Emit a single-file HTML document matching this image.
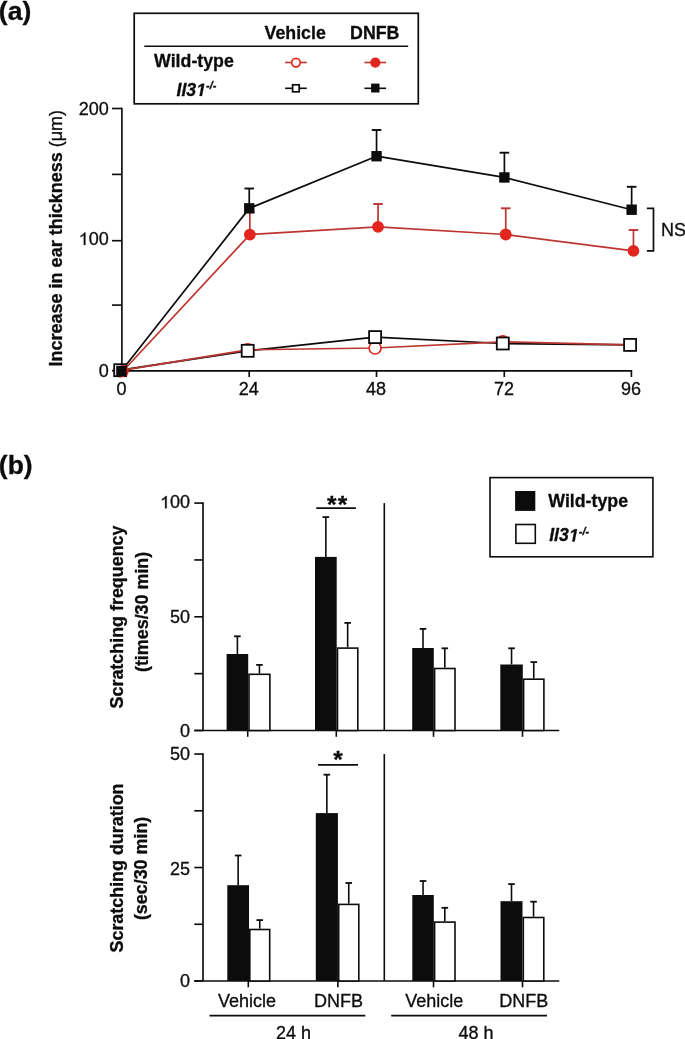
<!DOCTYPE html>
<html><head><meta charset="utf-8"><style>
html,body{margin:0;padding:0;background:#fff;}
svg{display:block;font-family:"Liberation Sans",sans-serif;filter:blur(0.4px);}
text{stroke:#0c0c0c;stroke-width:0.3px;}
</style></head><body>
<svg width="685" height="1039" viewBox="0 0 685 1039">
<rect width="685" height="1039" fill="#fff"/>
<text x="-1.2" y="19.5" text-anchor="start" font-weight="bold" font-style="normal" font-size="26.5" fill="#0c0c0c" >(a)</text>
<rect x="134.2" y="13.3" width="284.1" height="90.5" fill="none" stroke="#0c0c0c" stroke-width="1.7"/>
<line x1="144.3" y1="46.3" x2="408.2" y2="46.3" stroke="#0c0c0c" stroke-width="1.5"/>
<text x="264.6" y="38.7" text-anchor="start" font-weight="bold" font-style="normal" font-size="17.75" fill="#0c0c0c" >Vehicle</text>
<text x="350.1" y="38.7" text-anchor="start" font-weight="bold" font-style="normal" font-size="17.75" fill="#0c0c0c" >DNFB</text>
<text x="154.1" y="67" text-anchor="start" font-weight="bold" font-style="normal" font-size="17.75" fill="#0c0c0c" >Wild-type</text>
<text x="176.5" y="95.9" font-weight="bold" font-style="italic" font-size="17.75" fill="#0c0c0c">Il3</text>
<path transform="translate(196.23,95.9) scale(0.008667,-0.008667)" d="M380 0L604 1152L223 938L270 1180L666 1409H936L661 0Z" fill="#0c0c0c" stroke="#0c0c0c" stroke-width="34.6"/>
<text x="206.11" y="89.4" font-weight="bold" font-style="italic" font-size="11" fill="#0c0c0c">-/-</text>
<line x1="285.1" y1="62.5" x2="306.8" y2="62.5" stroke="#bc3530" stroke-width="1.6"/>
<circle cx="295.95" cy="62.6" r="4.3" fill="#fff" stroke="#e2251d" stroke-width="1.7"/>
<line x1="364.4" y1="62.5" x2="386.1" y2="62.5" stroke="#bc3530" stroke-width="1.6"/>
<circle cx="375.35" cy="62.6" r="5.1" fill="#e2251d"/>
<line x1="285.1" y1="88.3" x2="306.8" y2="88.3" stroke="#0c0c0c" stroke-width="1.6"/>
<rect x="292.6" y="84.8" width="6.6" height="7.0" fill="#fff" stroke="#0c0c0c" stroke-width="1.7"/>
<line x1="364.4" y1="88.3" x2="386.1" y2="88.3" stroke="#0c0c0c" stroke-width="1.6"/>
<rect x="371.1" y="83.6" width="8.4" height="8.9" fill="#0c0c0c"/>
<line x1="121.9" y1="107.7" x2="121.9" y2="371.7" stroke="#0c0c0c" stroke-width="1.65"/>
<line x1="112.0" y1="370.7" x2="121.9" y2="370.7" stroke="#0c0c0c" stroke-width="1.65"/>
<line x1="112.0" y1="305.1" x2="121.9" y2="305.1" stroke="#0c0c0c" stroke-width="1.65"/>
<line x1="112.0" y1="240.7" x2="121.9" y2="240.7" stroke="#0c0c0c" stroke-width="1.65"/>
<line x1="112.0" y1="174.4" x2="121.9" y2="174.4" stroke="#0c0c0c" stroke-width="1.65"/>
<line x1="112.0" y1="108.5" x2="121.9" y2="108.5" stroke="#0c0c0c" stroke-width="1.65"/>
<line x1="121.10000000000001" y1="370.9" x2="632.2" y2="370.9" stroke="#0c0c0c" stroke-width="1.65"/>
<line x1="121.9" y1="370.9" x2="121.9" y2="377.0" stroke="#0c0c0c" stroke-width="1.65"/>
<line x1="249.2" y1="370.9" x2="249.2" y2="377.0" stroke="#0c0c0c" stroke-width="1.65"/>
<line x1="376.5" y1="370.9" x2="376.5" y2="377.0" stroke="#0c0c0c" stroke-width="1.65"/>
<line x1="504.3" y1="370.9" x2="504.3" y2="377.0" stroke="#0c0c0c" stroke-width="1.65"/>
<line x1="631.4" y1="370.9" x2="631.4" y2="377.0" stroke="#0c0c0c" stroke-width="1.65"/>
<text x="121.5" y="395.3" text-anchor="middle" font-weight="normal" font-style="normal" font-size="18" fill="#0c0c0c" >0</text>
<text x="248.79999999999998" y="395.3" text-anchor="middle" font-weight="normal" font-style="normal" font-size="18" fill="#0c0c0c" >24</text>
<text x="376.1" y="395.3" text-anchor="middle" font-weight="normal" font-style="normal" font-size="18" fill="#0c0c0c" >48</text>
<text x="503.90000000000003" y="395.3" text-anchor="middle" font-weight="normal" font-style="normal" font-size="18" fill="#0c0c0c" >72</text>
<text x="631.0" y="395.3" text-anchor="middle" font-weight="normal" font-style="normal" font-size="18" fill="#0c0c0c" >96</text>
<text x="98.69" y="376.60" font-size="18" fill="#0c0c0c">0</text>
<path transform="translate(78.67,244.95) scale(0.008789,-0.008789)" d="M763 0H583V1098L223 890V1057Q420 1150 530 1260Q610 1340 647 1409H763Z" fill="#0c0c0c" stroke="#0c0c0c" stroke-width="34.1"/>
<text x="88.68" y="244.95" font-size="18" fill="#0c0c0c">0</text>
<text x="98.69" y="244.95" font-size="18" fill="#0c0c0c">0</text>
<text x="78.67" y="115.25" font-size="18" fill="#0c0c0c">2</text>
<text x="88.68" y="115.25" font-size="18" fill="#0c0c0c">0</text>
<text x="98.69" y="115.25" font-size="18" fill="#0c0c0c">0</text>
<text transform="translate(62,238.2) rotate(-90)" text-anchor="middle" font-size="18" fill="#0c0c0c"><tspan font-weight="bold">Increase in ear thickness </tspan>(μm)</text>
<polyline points="120.2,370.2 247.7,350.8 375.1,337.1 502.8,343.5 630.1,344.9" fill="none" stroke="#0c0c0c" stroke-width="1.7" stroke-linejoin="round"/>
<polyline points="121.4,371.0 249.25,208.35 376.55,156.2 504.4,177.45 631.65,209.7" fill="none" stroke="#0c0c0c" stroke-width="1.7" stroke-linejoin="round"/>
<polyline points="120.2,370.6 247.7,349.8 375.1,348.0 502.8,341.8 630.1,344.9" fill="none" stroke="#bc3530" stroke-width="1.7" stroke-linejoin="round"/>
<polyline points="123.0,371.0 249.85,234.6 378.05,226.8 505.75,234.5 633.45,250.95" fill="none" stroke="#bc3530" stroke-width="1.7" stroke-linejoin="round"/>
<line x1="249.85" y1="234.6" x2="249.85" y2="212.0" stroke="#bc3530" stroke-width="1.7"/>
<line x1="245.04999999999998" y1="212.0" x2="254.65" y2="212.0" stroke="#bc3530" stroke-width="1.9"/>
<line x1="378.05" y1="226.8" x2="378.05" y2="204.0" stroke="#bc3530" stroke-width="1.7"/>
<line x1="373.25" y1="204.0" x2="382.85" y2="204.0" stroke="#bc3530" stroke-width="1.9"/>
<line x1="505.75" y1="234.5" x2="505.75" y2="208.3" stroke="#bc3530" stroke-width="1.7"/>
<line x1="500.95" y1="208.3" x2="510.55" y2="208.3" stroke="#bc3530" stroke-width="1.9"/>
<line x1="633.45" y1="250.95" x2="633.45" y2="230.0" stroke="#bc3530" stroke-width="1.7"/>
<line x1="628.6500000000001" y1="230.0" x2="638.25" y2="230.0" stroke="#bc3530" stroke-width="1.9"/>
<line x1="249.25" y1="208.35" x2="249.25" y2="188.5" stroke="#0c0c0c" stroke-width="1.7"/>
<line x1="244.45" y1="188.5" x2="254.05" y2="188.5" stroke="#0c0c0c" stroke-width="1.9"/>
<line x1="376.55" y1="156.2" x2="376.55" y2="130.0" stroke="#0c0c0c" stroke-width="1.7"/>
<line x1="371.75" y1="130.0" x2="381.35" y2="130.0" stroke="#0c0c0c" stroke-width="1.9"/>
<line x1="504.4" y1="177.45" x2="504.4" y2="152.7" stroke="#0c0c0c" stroke-width="1.7"/>
<line x1="499.59999999999997" y1="152.7" x2="509.2" y2="152.7" stroke="#0c0c0c" stroke-width="1.9"/>
<line x1="631.65" y1="209.7" x2="631.65" y2="186.8" stroke="#0c0c0c" stroke-width="1.7"/>
<line x1="626.85" y1="186.8" x2="636.4499999999999" y2="186.8" stroke="#0c0c0c" stroke-width="1.9"/>
<circle cx="120.2" cy="370.6" r="6.0" fill="#fff" stroke="#e2251d" stroke-width="1.7"/>
<circle cx="247.7" cy="349.8" r="6.0" fill="#fff" stroke="#e2251d" stroke-width="1.7"/>
<circle cx="375.1" cy="348.0" r="6.0" fill="#fff" stroke="#e2251d" stroke-width="1.7"/>
<circle cx="502.8" cy="341.8" r="6.0" fill="#fff" stroke="#e2251d" stroke-width="1.7"/>
<circle cx="630.1" cy="344.9" r="6.0" fill="#fff" stroke="#e2251d" stroke-width="1.7"/>
<rect x="114.2" y="364.2" width="12.0" height="12.0" fill="#fff" stroke="#0c0c0c" stroke-width="1.8"/>
<rect x="241.7" y="344.8" width="12.0" height="12.0" fill="#fff" stroke="#0c0c0c" stroke-width="1.8"/>
<rect x="369.1" y="331.1" width="12.0" height="12.0" fill="#fff" stroke="#0c0c0c" stroke-width="1.8"/>
<rect x="496.8" y="337.5" width="12.0" height="12.0" fill="#fff" stroke="#0c0c0c" stroke-width="1.8"/>
<rect x="624.1" y="338.9" width="12.0" height="12.0" fill="#fff" stroke="#0c0c0c" stroke-width="1.8"/>
<circle cx="123.0" cy="371.0" r="5.9" fill="#e2251d"/>
<circle cx="249.85" cy="234.6" r="5.9" fill="#e2251d"/>
<circle cx="378.05" cy="226.8" r="5.9" fill="#e2251d"/>
<circle cx="505.75" cy="234.5" r="5.9" fill="#e2251d"/>
<circle cx="633.45" cy="250.95" r="5.9" fill="#e2251d"/>
<rect x="116.2" y="365.8" width="10.4" height="10.4" fill="#0c0c0c"/>
<rect x="244.05" y="203.15" width="10.4" height="10.4" fill="#0c0c0c"/>
<rect x="371.35" y="151.0" width="10.4" height="10.4" fill="#0c0c0c"/>
<rect x="499.2" y="172.25" width="10.4" height="10.4" fill="#0c0c0c"/>
<rect x="626.4499999999999" y="204.5" width="10.4" height="10.4" fill="#0c0c0c"/>
<polyline points="646.9,208.3 653.5,208.3 653.5,250.9 646.9,250.9" fill="none" stroke="#0c0c0c" stroke-width="1.7"/>
<text x="660.9" y="235.9" text-anchor="start" font-weight="normal" font-style="normal" font-size="18" fill="#0c0c0c" >NS</text>
<text x="-1.2" y="473.5" text-anchor="start" font-weight="bold" font-style="normal" font-size="26.5" fill="#0c0c0c" >(b)</text>
<line x1="203.0" y1="502.3" x2="203.0" y2="730.5" stroke="#0c0c0c" stroke-width="1.65"/>
<line x1="194.3" y1="730.5" x2="203.0" y2="730.5" stroke="#0c0c0c" stroke-width="1.65"/>
<line x1="194.3" y1="673.65" x2="203.0" y2="673.65" stroke="#0c0c0c" stroke-width="1.65"/>
<line x1="194.3" y1="616.8000000000001" x2="203.0" y2="616.8000000000001" stroke="#0c0c0c" stroke-width="1.65"/>
<line x1="194.3" y1="559.95" x2="203.0" y2="559.95" stroke="#0c0c0c" stroke-width="1.65"/>
<line x1="194.3" y1="503.1" x2="203.0" y2="503.1" stroke="#0c0c0c" stroke-width="1.65"/>
<line x1="194.3" y1="730.5" x2="559.3" y2="730.5" stroke="#0c0c0c" stroke-width="1.65"/>
<text x="179.99" y="736.95" font-size="18" fill="#0c0c0c">0</text>
<text x="169.98" y="623.05" font-size="18" fill="#0c0c0c">5</text>
<text x="179.99" y="623.05" font-size="18" fill="#0c0c0c">0</text>
<path transform="translate(159.97,508.35) scale(0.008789,-0.008789)" d="M763 0H583V1098L223 890V1057Q420 1150 530 1260Q610 1340 647 1409H763Z" fill="#0c0c0c" stroke="#0c0c0c" stroke-width="34.1"/>
<text x="169.98" y="508.35" font-size="18" fill="#0c0c0c">0</text>
<text x="179.99" y="508.35" font-size="18" fill="#0c0c0c">0</text>
<line x1="384.3" y1="503.1" x2="384.3" y2="730.5" stroke="#0c0c0c" stroke-width="1.6"/>
<line x1="247.7" y1="730.5" x2="247.7" y2="736.8" stroke="#0c0c0c" stroke-width="1.6"/>
<line x1="336.3" y1="730.5" x2="336.3" y2="736.8" stroke="#0c0c0c" stroke-width="1.6"/>
<line x1="433.5" y1="730.5" x2="433.5" y2="736.8" stroke="#0c0c0c" stroke-width="1.6"/>
<line x1="522.5" y1="730.5" x2="522.5" y2="736.8" stroke="#0c0c0c" stroke-width="1.6"/>
<line x1="237.39999999999998" y1="654.0" x2="237.39999999999998" y2="636.3" stroke="#0c0c0c" stroke-width="1.6"/>
<line x1="234.09999999999997" y1="636.3" x2="240.7" y2="636.3" stroke="#0c0c0c" stroke-width="1.8"/>
<rect x="226.6" y="654.0" width="21.599999999999994" height="76.5" fill="#0c0c0c"/>
<line x1="259.45" y1="673.5" x2="259.45" y2="664.9" stroke="#0c0c0c" stroke-width="1.6"/>
<line x1="256.15" y1="664.9" x2="262.75" y2="664.9" stroke="#0c0c0c" stroke-width="1.8"/>
<rect x="249.0" y="674.3" width="20.9" height="56.2" fill="#fff" stroke="#0c0c0c" stroke-width="1.6"/>
<line x1="325.85" y1="556.9" x2="325.85" y2="517.1" stroke="#0c0c0c" stroke-width="1.6"/>
<line x1="322.55" y1="517.1" x2="329.15000000000003" y2="517.1" stroke="#0c0c0c" stroke-width="1.8"/>
<rect x="315.0" y="556.9" width="21.69999999999999" height="173.60000000000002" fill="#0c0c0c"/>
<line x1="347.65" y1="647.3" x2="347.65" y2="622.9" stroke="#0c0c0c" stroke-width="1.6"/>
<line x1="344.34999999999997" y1="622.9" x2="350.95" y2="622.9" stroke="#0c0c0c" stroke-width="1.8"/>
<rect x="337.5" y="648.0999999999999" width="20.300000000000033" height="82.40000000000005" fill="#fff" stroke="#0c0c0c" stroke-width="1.6"/>
<line x1="423.0" y1="648.0" x2="423.0" y2="628.9" stroke="#0c0c0c" stroke-width="1.6"/>
<line x1="419.7" y1="628.9" x2="426.3" y2="628.9" stroke="#0c0c0c" stroke-width="1.8"/>
<rect x="412.2" y="648.0" width="21.600000000000023" height="82.5" fill="#0c0c0c"/>
<line x1="444.8" y1="667.7" x2="444.8" y2="648.3" stroke="#0c0c0c" stroke-width="1.6"/>
<line x1="441.5" y1="648.3" x2="448.1" y2="648.3" stroke="#0c0c0c" stroke-width="1.8"/>
<rect x="434.6" y="668.5" width="20.4" height="61.99999999999996" fill="#fff" stroke="#0c0c0c" stroke-width="1.6"/>
<line x1="511.54999999999995" y1="664.5" x2="511.54999999999995" y2="648.3" stroke="#0c0c0c" stroke-width="1.6"/>
<line x1="508.24999999999994" y1="648.3" x2="514.8499999999999" y2="648.3" stroke="#0c0c0c" stroke-width="1.8"/>
<rect x="500.3" y="664.5" width="22.499999999999943" height="66.0" fill="#0c0c0c"/>
<line x1="533.75" y1="678.4" x2="533.75" y2="662.1" stroke="#0c0c0c" stroke-width="1.6"/>
<line x1="530.45" y1="662.1" x2="537.05" y2="662.1" stroke="#0c0c0c" stroke-width="1.8"/>
<rect x="523.5999999999999" y="679.1999999999999" width="20.30000000000009" height="51.300000000000026" fill="#fff" stroke="#0c0c0c" stroke-width="1.6"/>
<line x1="203.0" y1="753.25" x2="203.0" y2="981.0" stroke="#0c0c0c" stroke-width="1.65"/>
<line x1="194.3" y1="981.0" x2="203.0" y2="981.0" stroke="#0c0c0c" stroke-width="1.65"/>
<line x1="194.3" y1="924.2625" x2="203.0" y2="924.2625" stroke="#0c0c0c" stroke-width="1.65"/>
<line x1="194.3" y1="867.525" x2="203.0" y2="867.525" stroke="#0c0c0c" stroke-width="1.65"/>
<line x1="194.3" y1="810.7874999999999" x2="203.0" y2="810.7874999999999" stroke="#0c0c0c" stroke-width="1.65"/>
<line x1="194.3" y1="754.05" x2="203.0" y2="754.05" stroke="#0c0c0c" stroke-width="1.65"/>
<line x1="194.3" y1="981.0" x2="559.3" y2="981.0" stroke="#0c0c0c" stroke-width="1.65"/>
<text x="179.99" y="987.35" font-size="18" fill="#0c0c0c">0</text>
<text x="169.98" y="874.95" font-size="18" fill="#0c0c0c">2</text>
<text x="179.99" y="874.95" font-size="18" fill="#0c0c0c">5</text>
<text x="169.98" y="759.95" font-size="18" fill="#0c0c0c">5</text>
<text x="179.99" y="759.95" font-size="18" fill="#0c0c0c">0</text>
<line x1="384.3" y1="754.05" x2="384.3" y2="981.0" stroke="#0c0c0c" stroke-width="1.6"/>
<line x1="248.3" y1="981.0" x2="248.3" y2="987.3" stroke="#0c0c0c" stroke-width="1.6"/>
<line x1="337.9" y1="981.0" x2="337.9" y2="987.3" stroke="#0c0c0c" stroke-width="1.6"/>
<line x1="433.5" y1="981.0" x2="433.5" y2="987.3" stroke="#0c0c0c" stroke-width="1.6"/>
<line x1="522.5" y1="981.0" x2="522.5" y2="987.3" stroke="#0c0c0c" stroke-width="1.6"/>
<line x1="238.15" y1="885.2" x2="238.15" y2="855.5" stroke="#0c0c0c" stroke-width="1.6"/>
<line x1="234.85" y1="855.5" x2="241.45000000000002" y2="855.5" stroke="#0c0c0c" stroke-width="1.8"/>
<rect x="227.3" y="885.2" width="21.69999999999999" height="95.79999999999995" fill="#0c0c0c"/>
<line x1="259.75" y1="928.7" x2="259.75" y2="920.1" stroke="#0c0c0c" stroke-width="1.6"/>
<line x1="256.45" y1="920.1" x2="263.05" y2="920.1" stroke="#0c0c0c" stroke-width="1.8"/>
<rect x="249.8" y="929.5" width="19.9" height="51.49999999999996" fill="#fff" stroke="#0c0c0c" stroke-width="1.6"/>
<line x1="326.85" y1="813.1" x2="326.85" y2="774.7" stroke="#0c0c0c" stroke-width="1.6"/>
<line x1="323.55" y1="774.7" x2="330.15000000000003" y2="774.7" stroke="#0c0c0c" stroke-width="1.8"/>
<rect x="315.8" y="813.1" width="22.099999999999966" height="167.89999999999998" fill="#0c0c0c"/>
<line x1="348.75" y1="903.6" x2="348.75" y2="883.0" stroke="#0c0c0c" stroke-width="1.6"/>
<line x1="345.45" y1="883.0" x2="352.05" y2="883.0" stroke="#0c0c0c" stroke-width="1.8"/>
<rect x="338.7" y="904.4" width="20.100000000000044" height="76.59999999999998" fill="#fff" stroke="#0c0c0c" stroke-width="1.6"/>
<line x1="423.05" y1="895.0" x2="423.05" y2="881.0" stroke="#0c0c0c" stroke-width="1.6"/>
<line x1="419.75" y1="881.0" x2="426.35" y2="881.0" stroke="#0c0c0c" stroke-width="1.8"/>
<rect x="412.3" y="895.0" width="21.5" height="86.0" fill="#0c0c0c"/>
<line x1="444.8" y1="921.3" x2="444.8" y2="907.8" stroke="#0c0c0c" stroke-width="1.6"/>
<line x1="441.5" y1="907.8" x2="448.1" y2="907.8" stroke="#0c0c0c" stroke-width="1.8"/>
<rect x="434.6" y="922.0999999999999" width="20.4" height="58.90000000000005" fill="#fff" stroke="#0c0c0c" stroke-width="1.6"/>
<line x1="511.5" y1="901.2" x2="511.5" y2="884.1" stroke="#0c0c0c" stroke-width="1.6"/>
<line x1="508.2" y1="884.1" x2="514.8" y2="884.1" stroke="#0c0c0c" stroke-width="1.8"/>
<rect x="500.5" y="901.2" width="22.0" height="79.79999999999995" fill="#0c0c0c"/>
<line x1="533.55" y1="916.7" x2="533.55" y2="901.7" stroke="#0c0c0c" stroke-width="1.6"/>
<line x1="530.25" y1="901.7" x2="536.8499999999999" y2="901.7" stroke="#0c0c0c" stroke-width="1.8"/>
<rect x="523.3" y="917.5" width="20.50000000000002" height="63.49999999999996" fill="#fff" stroke="#0c0c0c" stroke-width="1.6"/>
<line x1="316.3" y1="508.1" x2="355.9" y2="508.1" stroke="#0c0c0c" stroke-width="1.7"/>
<text x="337.8" y="513.1" text-anchor="middle" font-weight="bold" font-style="normal" font-size="24.5" fill="#0c0c0c" letter-spacing="1.2">**</text>
<line x1="318.1" y1="764.9" x2="358.0" y2="764.9" stroke="#0c0c0c" stroke-width="1.7"/>
<text x="338.1" y="767.7" text-anchor="middle" font-weight="bold" font-style="normal" font-size="24.5" fill="#0c0c0c" >*</text>
<text transform="translate(123.3,617.0) rotate(-90)" text-anchor="middle" font-weight="bold" font-size="17.9" fill="#0c0c0c">Scratching frequency</text>
<text transform="translate(147.6,611.9) rotate(-90)" text-anchor="middle" font-weight="bold" font-size="17.9" fill="#0c0c0c">(times/30 min)</text>
<text transform="translate(122.9,868.0) rotate(-90)" text-anchor="middle" font-weight="bold" font-size="17.9" fill="#0c0c0c">Scratching duration</text>
<text transform="translate(146.9,868.4) rotate(-90)" text-anchor="middle" font-weight="bold" font-size="17.9" fill="#0c0c0c">(sec/30 min)</text>
<rect x="490" y="477.6" width="162.9" height="79.2" fill="none" stroke="#0c0c0c" stroke-width="1.6"/>
<rect x="515.1" y="491.0" width="20.2" height="19.9" fill="#0c0c0c"/>
<rect x="515.9" y="524.5" width="19.4" height="18.8" fill="#fff" stroke="#0c0c0c" stroke-width="1.6"/>
<text x="548.3" y="506.7" text-anchor="start" font-weight="bold" font-style="normal" font-size="17.75" fill="#0c0c0c" >Wild-type</text>
<text x="549.2" y="541.4" font-weight="bold" font-style="italic" font-size="17.75" fill="#0c0c0c">Il3</text>
<path transform="translate(568.93,541.4) scale(0.008667,-0.008667)" d="M380 0L604 1152L223 938L270 1180L666 1409H936L661 0Z" fill="#0c0c0c" stroke="#0c0c0c" stroke-width="34.6"/>
<text x="578.81" y="534.9" font-weight="bold" font-style="italic" font-size="11" fill="#0c0c0c">-/-</text>
<text x="247" y="1006.8" text-anchor="middle" font-weight="normal" font-style="normal" font-size="18" fill="#0c0c0c" >Vehicle</text>
<text x="338.4" y="1006.8" text-anchor="middle" font-weight="normal" font-style="normal" font-size="18" fill="#0c0c0c" >DNFB</text>
<text x="434.3" y="1006.8" text-anchor="middle" font-weight="normal" font-style="normal" font-size="18" fill="#0c0c0c" >Vehicle</text>
<text x="523.7" y="1006.8" text-anchor="middle" font-weight="normal" font-style="normal" font-size="18" fill="#0c0c0c" >DNFB</text>
<line x1="209.5" y1="1015.6" x2="365.3" y2="1015.6" stroke="#0c0c0c" stroke-width="1.7"/>
<line x1="391.2" y1="1015.6" x2="547" y2="1015.6" stroke="#0c0c0c" stroke-width="1.7"/>
<text x="293.5" y="1038.8" text-anchor="middle" font-weight="normal" font-style="normal" font-size="18" fill="#0c0c0c" >24 h</text>
<text x="475.9" y="1038.8" text-anchor="middle" font-weight="normal" font-style="normal" font-size="18" fill="#0c0c0c" >48 h</text>
</svg>
</body></html>
